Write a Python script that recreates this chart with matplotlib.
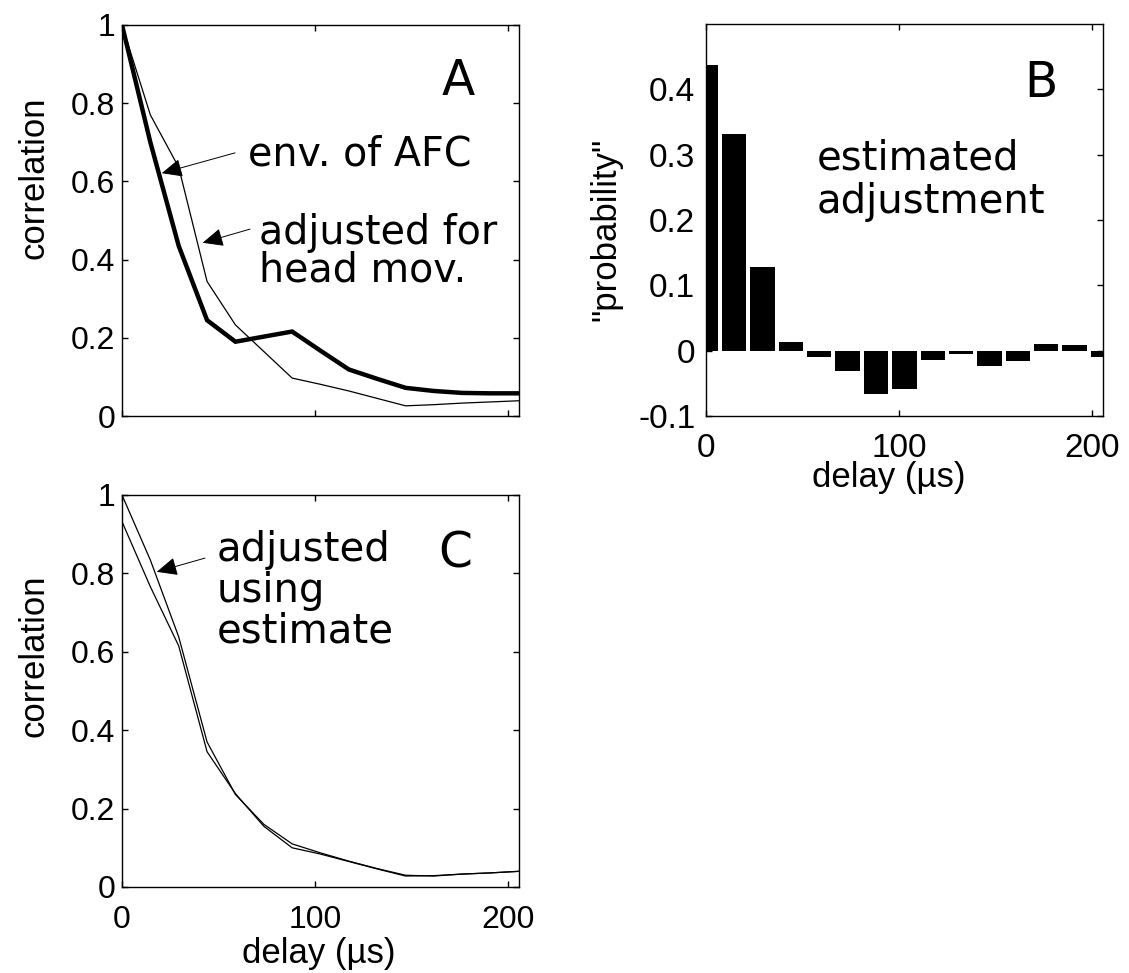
import matplotlib
matplotlib.use("Agg")
import matplotlib.pyplot as plt

# ---------------- data ----------------
delay = [0, 14.7, 29.4, 44.1, 58.8, 73.5, 88.2, 102.9, 117.6, 132.3, 147.0, 161.7, 176.4, 191.1, 205.8]

# Panel A
env_afc = [1.0, 0.770, 0.636, 0.344, 0.233, 0.165, 0.097, 0.081, 0.064, 0.045, 0.026, 0.029, 0.033, 0.036, 0.039]
adj_head = [1.0, 0.700, 0.435, 0.245, 0.190, 0.203, 0.216, 0.167, 0.119, 0.095, 0.072, 0.064, 0.059, 0.058, 0.058]

# Panel B
est_adjust = [0.437, 0.331, 0.128, 0.0125, -0.010, -0.031, -0.0665, -0.058, -0.015, -0.005, -0.023, -0.0155, 0.0105, 0.009, -0.010]

# Panel C
adj_est_1 = [1.0, 0.834, 0.638, 0.370, 0.236, 0.160, 0.110, 0.087, 0.066, 0.047, 0.030, 0.028, 0.033, 0.036, 0.040]
adj_est_2 = [0.932, 0.766, 0.615, 0.345, 0.238, 0.155, 0.100, 0.084, 0.065, 0.046, 0.028, 0.029, 0.033, 0.036, 0.040]

corr_ticks = [0, 0.2, 0.4, 0.6, 0.8, 1.0]
corr_ticklabels = ["0", "0.2", "0.4", "0.6", "0.8", "1"]
prob_ticks = [-0.1, 0, 0.1, 0.2, 0.3, 0.4]
prob_ticklabels = ["-0.1", "0", "0.1", "0.2", "0.3", "0.4"]
delay_ticks = [0, 100, 200]
delay_ticklabels = ["0", "100", "200"]

# ---------------- style ----------------
TICKFONT = "Liberation Sans"
ANNFONT = "DejaVu Sans"
plt.rcParams["font.family"] = [TICKFONT, "DejaVu Sans"]

W, H = 1129, 973
fig = plt.figure(figsize=(W / 100, H / 100), dpi=100)


def axes_px(l, t, r, b):
    return fig.add_axes([l / W, 1 - b / H, (r - l) / W, (b - t) / H])


def style(ax, tick_fs, pad_x, pad_y):
    for s in ax.spines.values():
        s.set_linewidth(1.0)
        s.set_color("black")
    ax.tick_params(direction="in", length=4, width=1.0, top=True, right=True,
                   labelsize=tick_fs, colors="black")
    ax.tick_params(axis="x", pad=pad_x)
    ax.tick_params(axis="y", pad=pad_y)


arrow_kw = dict(arrowstyle="-|>,head_length=0.85,head_width=0.38", color="black",
                lw=0.7, mutation_scale=15, shrinkA=0, shrinkB=0)

XMAX = 205.8

# ---------------- Panel A ----------------
axA = axes_px(122, 25, 519, 416)
axA.plot(delay, env_afc, color="black", lw=0.9)
axA.plot(delay, adj_head, color="black", lw=3.2, solid_joinstyle="miter")
axA.set_xlim(0, XMAX)
axA.set_ylim(0, 1)
axA.set_xticks(delay_ticks)
axA.set_xticklabels([])
axA.set_yticks(corr_ticks)
axA.set_yticklabels(corr_ticklabels)
style(axA, 23, 14, 5)
axA.set_ylabel("correlation", fontsize=25)
axA.yaxis.set_label_coords(-0.18, 0.61)
axA.text(174.2, 0.918, "A", fontsize=35, family=ANNFONT, ha="center", va="top")
axA.text(65.3, 0.719, "env. of AFC", fontsize=28.5, family=ANNFONT, ha="left", va="top")
axA.text(71.2, 0.519, "adjusted for\nhead mov.", fontsize=28.5, family=ANNFONT,
         ha="left", va="top", linespacing=0.92)
axA.annotate("", xy=(20.6, 0.621), xytext=(58.6, 0.673), arrowprops=arrow_kw)
axA.annotate("", xy=(41.8, 0.443), xytext=(66.4, 0.478), arrowprops=arrow_kw)

# ---------------- Panel B ----------------
axB = axes_px(705.7, 24, 1103, 416)
axB.bar(delay, est_adjust, width=12.6, color="black", edgecolor="none")
axB.set_xlim(0, XMAX)
axB.set_ylim(-0.1, 0.5)
axB.set_xticks(delay_ticks)
axB.set_xticklabels(delay_ticklabels)
axB.set_yticks(prob_ticks)
axB.set_yticklabels(prob_ticklabels)
style(axB, 24, 12, 7.5)
axB.set_ylabel('"probability"', fontsize=25)
axB.yaxis.set_label_coords(-0.21, 0.475)
axB.set_xlabel("delay (µs)", fontsize=25)
axB.xaxis.set_label_coords(0.46, -0.115)
axB.text(173.7, 0.446, "B", fontsize=35, family=ANNFONT, ha="center", va="top")
axB.text(57.7, 0.325, "estimated\nadjustment", fontsize=29, family=ANNFONT,
         ha="left", va="top", linespacing=1.12)

# ---------------- Panel C ----------------
axC = axes_px(122, 495, 519, 887)
axC.plot(delay, adj_est_1, color="black", lw=0.9)
axC.plot(delay, adj_est_2, color="black", lw=0.9)
axC.set_xlim(0, XMAX)
axC.set_ylim(0, 1)
axC.set_xticks(delay_ticks)
axC.set_xticklabels(delay_ticklabels)
axC.set_yticks(corr_ticks)
axC.set_yticklabels(corr_ticklabels)
style(axC, 23, 13, 5)
axC.set_ylabel("correlation", fontsize=25)
axC.yaxis.set_label_coords(-0.18, 0.59)
axC.set_xlabel("delay (µs)", fontsize=25)
axC.xaxis.set_label_coords(0.495, -0.127)
axC.text(172.6, 0.911, "C", fontsize=35, family=ANNFONT, ha="center", va="top")
axC.text(49.2, 0.911, "adjusted\nusing\nestimate", fontsize=29, family=ANNFONT,
         ha="left", va="top", linespacing=1.03)
axC.annotate("", xy=(18.0, 0.804), xytext=(43.0, 0.839), arrowprops=arrow_kw)

fig.savefig("out.png", dpi=100, facecolor="white")
